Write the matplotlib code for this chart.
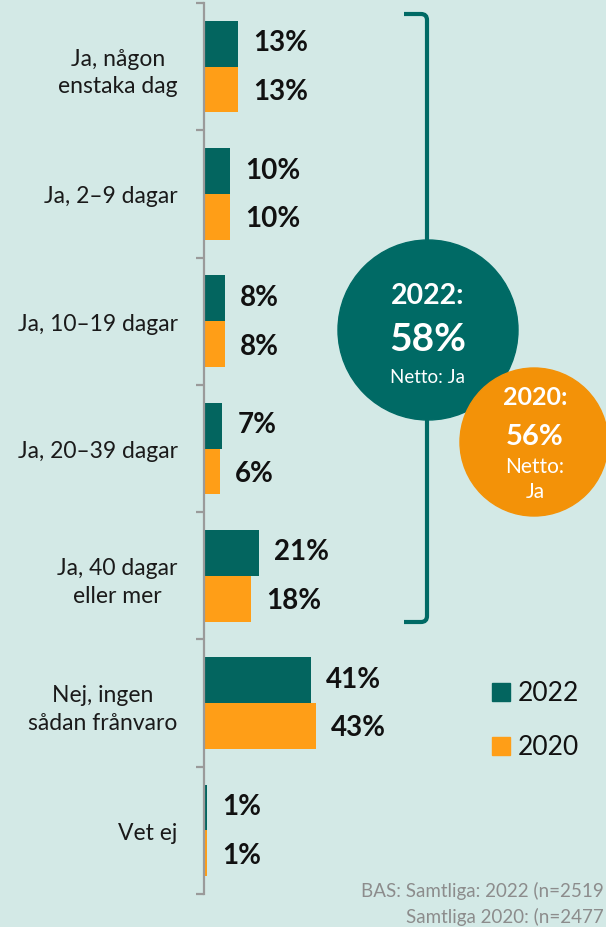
import matplotlib
matplotlib.use("Agg")
import matplotlib.pyplot as plt
from matplotlib.patches import Circle, PathPatch
from matplotlib.path import Path
import numpy as np

plt.rcParams['font.family'] = ['Lato', 'DejaVu Sans']

categories = ["Ja, någon\nenstaka dag", "Ja, 2–9 dagar", "Ja, 10–19 dagar",
              "Ja, 20–39 dagar", "Ja, 40 dagar\neller mer",
              "Nej, ingen\nsådan frånvaro", "Vet ej"]
values_2022 = [13, 10, 8, 7, 21, 41, 1]
values_2020 = [13, 10, 8, 6, 18, 43, 1]
series_names = ["2022", "2020"]
net_2022 = "58%"
net_2020 = "56%"
footnote = ["BAS: Samtliga: 2022 (n=2519", "Samtliga 2020: (n=2477"]

BG = '#d3e9e6'
TEAL = '#03655f'
TEAL_C = '#006a65'
ORANGE = '#ff9e17'
ORANGE_C = '#f39208'
AXIS = '#9a9a9a'

W, H = 606, 928
fig = plt.figure(figsize=(W / 100, H / 100), dpi=100, facecolor=BG)

# main axes: pixel bounds x 204..606, y 4..895
x0, x1 = 204, 606
ytop, ybot = 4, 895
ax = fig.add_axes([x0 / W, (H - ybot) / H, (x1 - x0) / W, (ybot - ytop) / H])
ax.set_facecolor('none')
px_per_pct = 2.6
ax.set_xlim(0, (x1 - x0) / px_per_pct)
n = len(categories)
ax.set_ylim(n - 0.5, -0.5)

y = np.arange(n)
h = 0.36
ax.barh(y - h / 2, values_2022, height=h, color=TEAL, label=series_names[0])
ax.barh(y + h / 2, values_2020, height=h, color=ORANGE, label=series_names[1])

for yi, v in zip(y, values_2022):
    ax.annotate(f"{v}%", (v, yi - h / 2), xytext=(11, 1), textcoords='offset points',
                ha='left', va='center', fontsize=20, fontweight='bold', color='#111111')
for yi, v in zip(y, values_2020):
    ax.annotate(f"{v}%", (v, yi + h / 2), xytext=(11, -1), textcoords='offset points',
                ha='left', va='center', fontsize=20, fontweight='bold', color='#111111')

for s in ['top', 'right', 'bottom']:
    ax.spines[s].set_visible(False)
ax.spines['left'].set_color(AXIS)
ax.spines['left'].set_linewidth(1.6)
ax.set_xticks([])
ax.set_yticks(y)
ax.set_yticklabels(categories, fontsize=16.5, color='#1a1a1a', ha='right',
                   multialignment='center', linespacing=1.4)
ax.tick_params(axis='y', which='major', length=0, pad=19)
ax.set_yticks(np.arange(n + 1) - 0.5, minor=True)
ax.tick_params(axis='y', which='minor', length=6, width=1.6, color=AXIS, direction='out')

# overlay in pixel coordinates
ov = fig.add_axes([0, 0, 1, 1])
ov.set_xlim(0, W)
ov.set_ylim(H, 0)
ov.set_facecolor('none')
ov.axis('off')

bx, btop, bbot, bl, r = 427, 15, 623, 404, 6
verts = [(bl, btop), (bx - r, btop), (bx, btop), (bx, btop + r),
         (bx, bbot - r), (bx, bbot), (bx - r, bbot), (bl, bbot)]
codes = [Path.MOVETO, Path.LINETO, Path.CURVE3, Path.CURVE3,
         Path.LINETO, Path.CURVE3, Path.CURVE3, Path.LINETO]
ov.add_patch(PathPatch(Path(verts, codes), fill=False, edgecolor=TEAL_C, lw=3, capstyle='butt'))

ov.add_patch(Circle((428, 331), 90, color=TEAL_C, zorder=3))
ov.add_patch(Circle((534, 443), 74, color=ORANGE_C, zorder=4))

ov.text(428, 296, "2022:", ha='center', va='center', color='white', fontsize=20.5,
        fontweight='bold', zorder=5)
ov.text(428, 340, net_2022, ha='center', va='center', color='white', fontsize=28,
        fontweight='bold', zorder=5)
ov.text(428, 378, "Netto: Ja", ha='center', va='center', color='white', fontsize=13.5,
        zorder=5)
ov.text(535, 398, "2020:", ha='center', va='center', color='white', fontsize=18,
        fontweight='bold', zorder=6)
ov.text(535, 437, net_2020, ha='center', va='center', color='white', fontsize=21,
        fontweight='bold', zorder=6)
ov.text(535, 467, "Netto:", ha='center', va='center', color='white', fontsize=15,
        zorder=6)
ov.text(535, 492, "Ja", ha='center', va='center', color='white', fontsize=15,
        zorder=6)

# legend
for i, (name, col) in enumerate(zip(series_names, [TEAL, ORANGE])):
    yc = 693 + 54 * i
    ov.add_patch(plt.Rectangle((492, yc - 9), 18, 18, color=col))
    ov.text(518, yc + 1, name, ha='left', va='center', fontsize=19, color='#111111')

ov.text(604, 891, footnote[0], ha='right', va='center', fontsize=13.5, color='#8c8c8c')
ov.text(604, 917, footnote[1], ha='right', va='center', fontsize=13.5, color='#8c8c8c')

fig.savefig("out.png", dpi=100, facecolor=BG)
